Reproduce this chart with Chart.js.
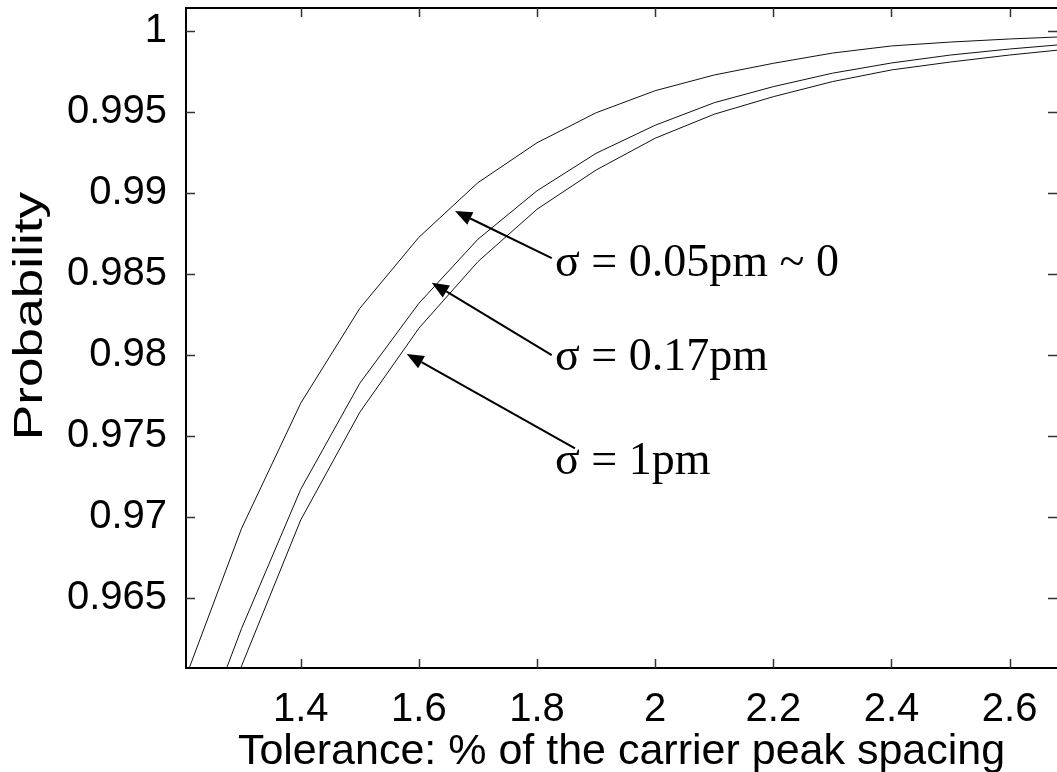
<!DOCTYPE html>
<html lang="en">
<head>
<meta charset="UTF-8">
<title>Probability vs tolerance</title>
<style>
  html, body { margin: 0; padding: 0; background: #fff; overflow: hidden; }
</style>
</head>
<body>
<div style="width: 1057px; height: 772px;">
  <canvas id="myChart" width="1057" height="772"></canvas>
</div>

<script src="https://cdn.jsdelivr.net/npm/chart.js"></script>
<script>
// x values (tolerance, % of carrier peak spacing)
const xs = [1.2, 1.3, 1.4, 1.5, 1.6, 1.7, 1.8, 1.9, 2.0, 2.1, 2.2, 2.3, 2.4, 2.5, 2.6, 2.7];

// probability curves
const sigma005 = [0.9596, 0.96932, 0.97703, 0.98288, 0.98726, 0.99063, 0.99309, 0.99494, 0.9963, 0.99727, 0.99799, 0.99862, 0.99906, 0.9993, 0.99949, 0.99964];
const sigma017 = [0.9535, 0.96315, 0.97172, 0.97826, 0.98319, 0.98714, 0.99013, 0.99244, 0.99417, 0.99556, 0.99655, 0.99738, 0.99801, 0.9985, 0.99887, 0.99918];
const sigma1   = [0.9518, 0.96084, 0.96983, 0.97647, 0.98165, 0.98576, 0.98899, 0.99141, 0.99337, 0.99485, 0.99593, 0.99686, 0.99758, 0.99807, 0.9985, 0.99887];

const xTicks = [1.4, 1.6, 1.8, 2.0, 2.2, 2.4, 2.6];
const xTickLabels = ['1.4', '1.6', '1.8', '2', '2.2', '2.4', '2.6'];
const yTicks = [0.965, 0.97, 0.975, 0.98, 0.985, 0.99, 0.995, 1];
const yTickLabels = ['0.965', '0.97', '0.975', '0.98', '0.985', '0.99', '0.995', '1'];

// annotations: text and arrow (tail -> tip) in data units
const noteTexts = ['\u03C3 = 0.05pm ~ 0', '\u03C3 = 0.17pm', '\u03C3 = 1pm'];
const noteAt = [[1.8305, 0.98561], [1.8305, 0.97982], [1.8305, 0.97341]];
const arrowTail = [[1.8249, 0.98597], [1.8249, 0.98000], [1.8643, 0.97425]];
const arrowTip = [[1.6612, 0.98888], [1.6218, 0.98446], [1.5794, 0.98007]];

const yTitle = 'Probability';

function pts(ys) {
    let v_out = [];
    for (let i = 0; i < xs.length; i++) v_out.push({ x: xs[i], y: ys[i] });
    return v_out;
}

// box, inward ticks, arrows, labels, y title
const framePlugin = {
    id: 'frame',
    afterDraw(chart) {
        const c = chart.ctx;
        const a = chart.chartArea;
        const sx = chart.scales.x, sy = chart.scales.y;
        c.save();
        c.strokeStyle = '#000';
        c.lineWidth = 2;
        c.beginPath();
        c.moveTo(a.left, a.top); c.lineTo(a.right, a.top);
        c.stroke();

        c.lineWidth = 1.5;
        c.strokeStyle = '#333';
        const tl = 9;
        c.beginPath();
        for (const v of xTicks) {
            const px = Math.round(sx.getPixelForValue(v)) + 0.5;
            c.moveTo(px, a.bottom); c.lineTo(px, a.bottom - tl);
            c.moveTo(px, a.top); c.lineTo(px, a.top + tl);
        }
        for (const v of yTicks) {
            const py = Math.round(sy.getPixelForValue(v)) + 0.5;
            c.moveTo(a.left, py); c.lineTo(a.left + tl, py);
            c.moveTo(a.right, py); c.lineTo(a.right - tl, py);
        }
        c.stroke();

        // arrows
        c.strokeStyle = '#000';
        c.fillStyle = '#000';
        c.lineWidth = 2;
        for (let i = 0; i < arrowTip.length; i++) {
            const x0 = sx.getPixelForValue(arrowTail[i][0]), y0 = sy.getPixelForValue(arrowTail[i][1]);
            const x1 = sx.getPixelForValue(arrowTip[i][0]), y1 = sy.getPixelForValue(arrowTip[i][1]);
            const ang = Math.atan2(y1 - y0, x1 - x0);
            const hl = 17, hw = 7;
            const bx = x1 - hl * Math.cos(ang), by = y1 - hl * Math.sin(ang);
            c.beginPath();
            c.moveTo(x0, y0); c.lineTo(bx, by);
            c.stroke();
            c.beginPath();
            c.moveTo(x1, y1);
            c.lineTo(bx + hw * Math.sin(ang), by - hw * Math.cos(ang));
            c.lineTo(bx - hw * Math.sin(ang), by + hw * Math.cos(ang));
            c.closePath();
            c.fill();
        }

        c.font = '46px "Liberation Serif", "Times New Roman", serif';
        c.textAlign = 'left';
        c.textBaseline = 'middle';
        for (let i = 0; i < noteTexts.length; i++) {
            c.fillText(noteTexts[i], sx.getPixelForValue(noteAt[i][0]), sy.getPixelForValue(noteAt[i][1]));
        }

        // y axis title, stretched along its length like the original
        c.translate(31, 316);
        c.rotate(-Math.PI / 2);
        c.scale(1.33, 1);
        c.font = '40px "Liberation Sans", Arial, sans-serif';
        c.textAlign = 'center';
        c.textBaseline = 'middle';
        c.fillText(yTitle, 0, 0);
        c.restore();
    }
};

const lineStyle = { borderColor: '#111', borderWidth: 1, pointRadius: 0, tension: 0, fill: false };

const ctx = document.querySelector('#myChart');
new Chart(ctx, {
    type: 'line',
    data: {
        datasets: [
            { label: 'sigma = 0.05pm', data: pts(sigma005), ...lineStyle },
            { label: 'sigma = 0.17pm', data: pts(sigma017), ...lineStyle },
            { label: 'sigma = 1pm', data: pts(sigma1), ...lineStyle }
        ]
    },
    options: {
        responsive: false,
        animation: false,
        devicePixelRatio: 1,
        layout: { padding: { top: 8, right: 0, left: 0, bottom: 0 } },
        plugins: { legend: { display: false }, tooltip: { enabled: false } },
        scales: {
            x: {
                type: 'linear',
                min: 1.2058,
                max: 2.6802,
                grid: { display: false },
                border: { display: true, color: '#000', width: 2 },
                afterBuildTicks: (s) => { s.ticks = xTicks.map(v => ({ value: v })); },
                afterFit: (s) => { s.height = 104; s.paddingLeft = 0; s.paddingRight = 0; },
                ticks: {
                    autoSkip: false,
                    maxRotation: 0,
                    padding: 10,
                    color: '#000',
                    font: { family: '"Liberation Sans", Arial, sans-serif', size: 40 },
                    callback: (v) => xTickLabels[xTicks.indexOf(v)]
                },
                title: {
                    display: true,
                    text: 'Tolerance: % of the carrier peak spacing',
                    color: '#000',
                    padding: { top: 0, bottom: -6 },
                    font: { family: '"Liberation Sans", Arial, sans-serif', size: 43 }
                }
            },
            y: {
                type: 'linear',
                min: 0.9607,
                max: 1.0014,
                grid: { display: false },
                border: { display: true, color: '#000', width: 2 },
                afterBuildTicks: (s) => { s.ticks = yTicks.map(v => ({ value: v })); },
                afterFit: (s) => { s.width = 186; s.paddingTop = 0; s.paddingBottom = 0; },
                ticks: {
                    autoSkip: false,
                    padding: 11,
                    color: '#000',
                    font: { family: '"Liberation Sans", Arial, sans-serif', size: 40 },
                    callback: (v) => yTickLabels[yTicks.indexOf(v)]
                },
                title: { display: false }
            }
        }
    },
    plugins: [framePlugin]
});
</script>
</body>
</html>
